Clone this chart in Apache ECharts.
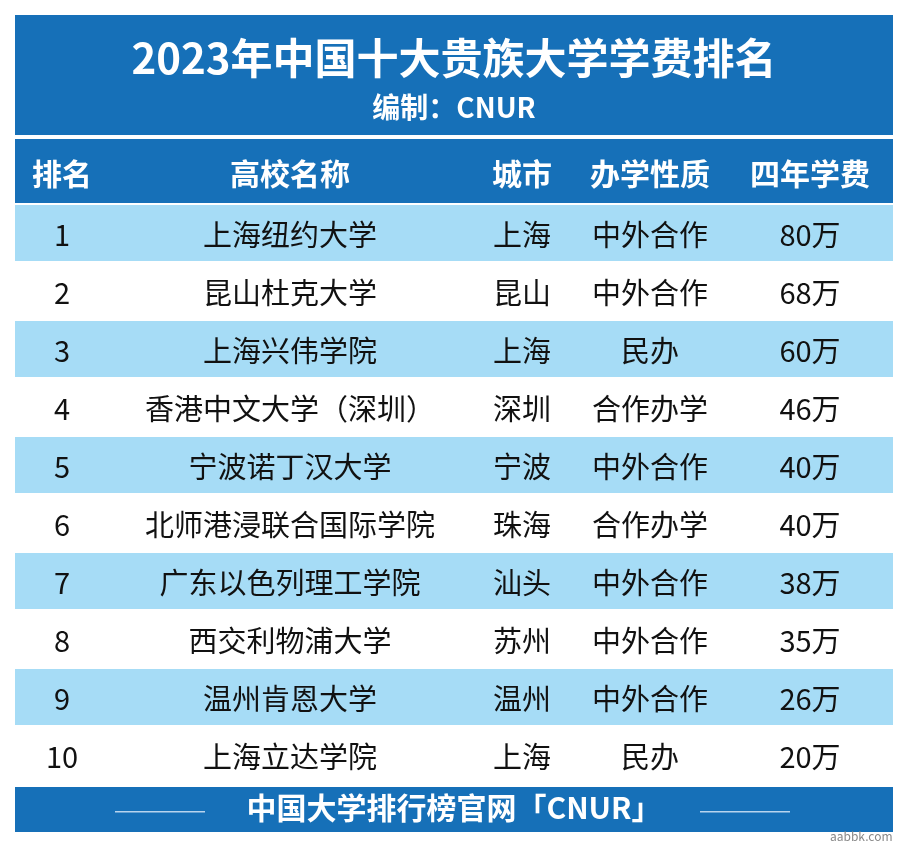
<!DOCTYPE html>
<html><head><meta charset="utf-8">
<script src="https://cdn.jsdelivr.net/npm/echarts@6/dist/echarts.min.js"></script>
<style>html,body{margin:0;padding:0;background:#fff}#c{width:908px;height:847px}</style>
</head><body><div id="c"></div>
<script>
const title = "2023年中国十大贵族大学学费排名";
const subtitle = "编制：CNUR";
const headers = ["排名","高校名称","城市","办学性质","四年学费"];
const ranks = ["1","2","3","4","5","6","7","8","9","10"];
const schools = ["上海纽约大学","昆山杜克大学","上海兴伟学院","香港中文大学（深圳）","宁波诺丁汉大学","北师港浸联合国际学院","广东以色列理工学院","西交利物浦大学","温州肯恩大学","上海立达学院"];
const cities = ["上海","昆山","上海","深圳","宁波","珠海","汕头","苏州","温州","上海"];
const natures = ["中外合作","中外合作","民办","合作办学","中外合作","合作办学","中外合作","中外合作","中外合作","民办"];
const fees = [80,68,60,46,40,40,38,35,26,20];
const footer = "中国大学排行榜官网「CNUR」";

const colX = [62,290,522,650,810];
const font = '"Noto Sans CJK SC", sans-serif';
const chart = echarts.init(document.getElementById('c'));
const data = ranks.map((r,i)=>[i, fees[i]]);
chart.setOption({
  animation:false,
  grid:{left:15,right:15,top:205,height:580},
  xAxis:{type:'value',min:0,max:1,show:false},
  yAxis:{type:'category',data:ranks,inverse:true,show:false},
  series:[{
    type:'custom',
    data:data,
    renderItem:function(params,api){
      const i=params.dataIndex;
      const p=api.coord([0,i]);
      const bh=api.size([0,1])[1];
      const cs=params.coordSys;
      const vals=[ranks[i],schools[i],cities[i],natures[i],api.value(1)+"万"];
      const children=[{type:'rect',shape:{x:cs.x,y:p[1]-bh/2,width:cs.width,height:bh-2},
        style:{fill:i%2===0?'#a6dcf6':'#ffffff'}}];
      for(let k=0;k<5;k++){
        children.push({type:'text',style:{text:vals[k],x:colX[k],y:p[1]+1,
          align:'center',verticalAlign:'middle',fill:'#111',font:'29px '+font}});
      }
      return {type:'group',children};
    }
  }],
  graphic:[
    {type:'rect',shape:{x:15,y:15,width:878,height:120},style:{fill:'#1670b8'}},
    {type:'text',style:{text:title,x:454,y:58,align:'center',verticalAlign:'middle',fill:'#fff',font:'bold 42px '+font}},
    {type:'text',style:{text:subtitle,x:454,y:107,align:'center',verticalAlign:'middle',fill:'#fff',font:'bold 28px '+font}},
    {type:'rect',shape:{x:15,y:139,width:878,height:64},style:{fill:'#1670b8'}},
    ...headers.map((h,k)=>({type:'text',style:{text:h,x:colX[k],y:174,align:'center',verticalAlign:'middle',fill:'#fff',font:'bold 30px '+font}})),
    {type:'rect',shape:{x:15,y:787,width:878,height:45},style:{fill:'#1670b8'}},
    {type:'text',style:{text:footer,x:454,y:808,align:'center',verticalAlign:'middle',fill:'#fff',font:'bold 30px '+font}},
    {type:'rect',shape:{x:115,y:811,width:90,height:1.5},style:{fill:'#b8d4ee'}},
    {type:'rect',shape:{x:700,y:811,width:90,height:1.5},style:{fill:'#b8d4ee'}},
    {type:'text',style:{text:'aabbk.com',x:830,y:836,align:'left',verticalAlign:'middle',fill:'#888',font:'12px '+font}}
  ]
});
</script></body></html>
